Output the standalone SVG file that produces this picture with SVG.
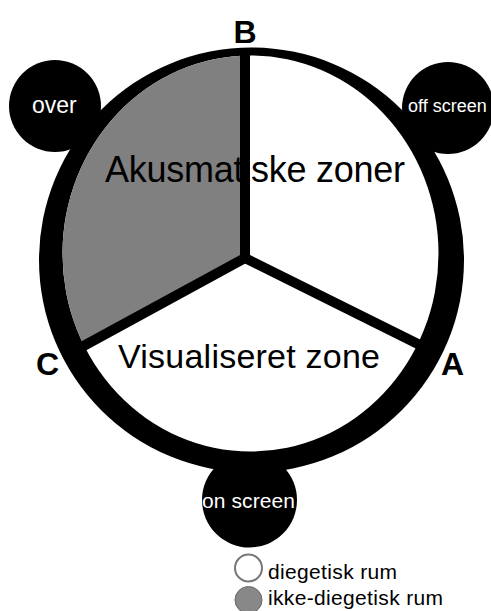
<svg xmlns="http://www.w3.org/2000/svg" width="491" height="611" viewBox="0 0 491 611">
<style>
.blk{fill:#000}
.lbl{font-family:"Liberation Sans",Arial,sans-serif;font-weight:bold;font-size:32px;fill:#000}
.zone{font-family:"Liberation Sans",Arial,sans-serif;fill:#000}
.sat{font-family:"Liberation Sans",Arial,sans-serif;fill:#fff}
.leg{font-family:"Liberation Sans",Arial,sans-serif;font-size:21px;fill:#000}
.div{stroke:#000;stroke-width:10;fill:none;stroke-linejoin:miter}
</style>
<defs>
<clipPath id="inner"><ellipse cx="250.5" cy="253.5" rx="188" ry="198"/></clipPath>
</defs>
<rect width="491" height="611" fill="#fff"/>
<g id="ring">
<circle class="blk" cx="251.5" cy="260" r="212.5"/>
</g>
<g id="over">
<circle class="blk" cx="55" cy="106" r="46"/>
<text class="sat" x="32" y="113" font-size="23">over</text>
</g>
<g id="offscreen">
<circle class="blk" cx="448" cy="108" r="46"/>
<text class="sat" x="408" y="112" font-size="18">off screen</text>
</g>
<g id="onscreen">
<circle class="blk" cx="249.5" cy="500" r="47.5"/>
<text class="sat" x="202" y="508" font-size="21" textLength="93">on screen</text>
</g>
<g id="inner-area">
<ellipse cx="250.5" cy="253.5" rx="188" ry="198" fill="#fff"/>
<polygon clip-path="url(#inner)" points="245,258 245,40 0,40 0,393" fill="#808080"/>
</g>
<g id="connectors">
<path class="div" d="M245,50 L245,258 L78,349"/>
<path class="div" d="M245,258 L428,349"/>
</g>
<g id="zoneA">
<text class="zone" x="105" y="182" font-size="36" textLength="300">Akusmatiske zoner</text>
</g>
<g id="zoneV">
<text class="zone" x="118" y="368" font-size="34" textLength="262">Visualiseret zone</text>
</g>
<g id="labelB"><text class="lbl" x="245" y="43" text-anchor="middle">B</text></g>
<g id="labelC"><text class="lbl" x="47.5" y="375" text-anchor="middle">C</text></g>
<g id="labelA"><text class="lbl" x="452.5" y="375" text-anchor="middle">A</text></g>
<g id="legend">
<circle cx="248.5" cy="568" r="13.5" fill="#fff" stroke="#777" stroke-width="2"/>
<text class="leg" x="268" y="579" textLength="129">diegetisk rum</text>
<circle cx="248.5" cy="600" r="13.5" fill="#888" stroke="#666" stroke-width="1"/>
<text class="leg" x="268" y="605" textLength="175">ikke-diegetisk rum</text>
</g>
</svg>
